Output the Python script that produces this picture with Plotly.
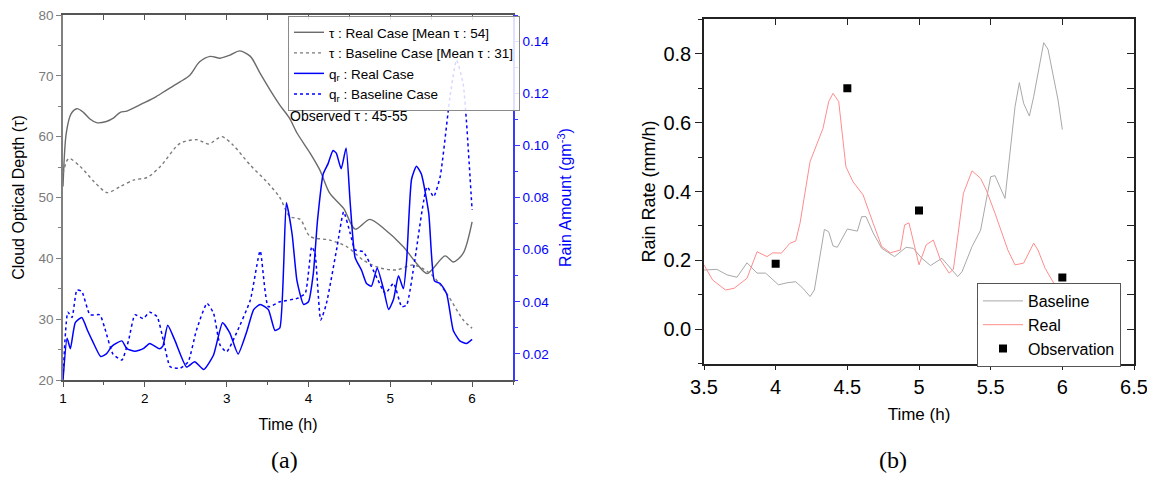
import plotly.graph_objects as go

# ---------------- Panel (a) data ----------------
tau_real_t = [1.00, 1.04, 1.10, 1.17, 1.25, 1.33, 1.41, 1.53, 1.62, 1.70, 1.78, 1.98, 2.14, 2.27, 2.43,
              2.55, 2.67, 2.80, 2.92, 3.04, 3.16, 3.29, 3.41, 3.53, 3.65, 3.77, 3.86, 4.02, 4.14, 4.26,
              4.43, 4.57, 4.75, 4.92, 5.16, 5.32, 5.45, 5.67, 5.77, 5.89, 6.00]
tau_real = [51.8, 60.6, 63.8, 64.6, 64.0, 62.9, 62.3, 62.5, 63.1, 64.0, 64.2, 65.5, 66.6, 67.7, 69.0,
            70.1, 72.3, 73.2, 72.9, 73.4, 74.1, 73.2, 70.4, 67.7, 65.2, 63.0, 60.6, 57.3, 54.5, 50.7,
            48.2, 44.8, 46.4, 44.9, 41.9, 39.2, 37.5, 40.4, 39.4, 40.8, 46.0]

tau_base_t = [1.00, 1.07, 1.21, 1.38, 1.54, 1.70, 1.87, 2.03, 2.19, 2.43, 2.64, 2.78, 2.94, 3.08, 3.29,
              3.49, 3.65, 3.77, 3.90, 4.02, 4.26, 4.47, 4.67, 4.88, 5.08, 5.28, 5.49, 5.69, 5.89, 6.00]
tau_base = [54.0, 56.4, 55.1, 52.6, 50.8, 51.8, 52.9, 53.3, 55.1, 58.9, 59.5, 58.8, 60.0, 58.6, 55.3,
            52.6, 50.0, 46.9, 46.4, 43.6, 43.0, 41.9, 39.7, 38.4, 38.1, 38.9, 37.5, 34.2, 29.9, 28.5]

qr_real_t = [1.00, 1.05, 1.09, 1.15, 1.23, 1.30, 1.36, 1.46, 1.53, 1.60, 1.72, 1.78, 1.88, 1.98, 2.06,
             2.18, 2.22, 2.28, 2.37, 2.51, 2.61, 2.72, 2.84, 2.95, 3.04, 3.14, 3.25, 3.33, 3.41, 3.51,
             3.59, 3.65, 3.73, 3.80, 3.86, 3.94, 4.00, 4.06, 4.11, 4.18, 4.24, 4.30, 4.34, 4.40, 4.46,
             4.51, 4.57, 4.65, 4.71, 4.77, 4.84, 4.92, 4.98, 5.04, 5.10, 5.16, 5.20, 5.26, 5.32, 5.38,
             5.47, 5.54, 5.61, 5.69, 5.77, 5.85, 5.93, 6.00]
qr_real = [0.010, 0.026, 0.022, 0.032, 0.034, 0.029, 0.025, 0.019, 0.020, 0.023, 0.025, 0.022, 0.021, 0.022, 0.024,
           0.022, 0.023, 0.031, 0.025, 0.015, 0.017, 0.014, 0.0196, 0.032, 0.028, 0.020, 0.029, 0.037, 0.039, 0.037,
           0.029, 0.030, 0.078, 0.066, 0.048, 0.039, 0.040, 0.051, 0.071, 0.089, 0.093, 0.098, 0.097, 0.091, 0.099,
           0.078, 0.057, 0.052, 0.047, 0.046, 0.053, 0.0445, 0.037, 0.041, 0.050, 0.045, 0.056, 0.087, 0.092, 0.089,
           0.074, 0.048, 0.047, 0.043, 0.029, 0.025, 0.024, 0.0256]

qr_base_t = [1.00, 1.06, 1.11, 1.17, 1.23, 1.33, 1.45, 1.51, 1.61, 1.72, 1.80, 1.88, 1.98, 2.06, 2.15,
             2.23, 2.31, 2.43, 2.53, 2.63, 2.76, 2.84, 2.92, 3.00, 3.12, 3.29, 3.41, 3.51, 3.65, 3.86,
             3.96, 4.04, 4.08, 4.15, 4.22, 4.35, 4.43, 4.51, 4.57, 4.67, 4.77, 4.85, 4.94, 5.04, 5.14,
             5.20, 5.30, 5.45, 5.53, 5.61, 5.73, 5.81, 5.89, 5.93, 6.00]
qr_base = [0.0106, 0.036, 0.034, 0.0445, 0.044, 0.035, 0.035, 0.030, 0.020, 0.0177, 0.025, 0.035, 0.0336, 0.036, 0.0343,
           0.0247, 0.0151, 0.0145, 0.017, 0.029, 0.0394, 0.0356, 0.0234, 0.0208, 0.028, 0.0407, 0.0595, 0.0381, 0.040, 0.0413,
           0.0432, 0.0611, 0.0586, 0.033, 0.0394, 0.0611, 0.0745, 0.0663, 0.0599, 0.0592, 0.0535, 0.0483, 0.0432, 0.0471, 0.0381,
           0.0388, 0.056, 0.0841, 0.0803, 0.088, 0.1187, 0.1327, 0.1238, 0.1097, 0.0752]

# ---------------- Panel (b) data ----------------
rate_base_t = [3.50, 3.59, 3.66, 3.73, 3.80, 3.87, 3.93, 4.02, 4.08, 4.14, 4.19, 4.24, 4.27, 4.34, 4.37,
               4.40, 4.43, 4.50, 4.57, 4.60, 4.63, 4.68, 4.74, 4.83, 4.91, 4.96, 5.02, 5.08, 5.16, 5.21,
               5.27, 5.30, 5.37, 5.43, 5.50, 5.53, 5.60, 5.67, 5.70, 5.73, 5.77, 5.80, 5.87, 5.90, 5.94,
               5.97, 6.00]
rate_base = [0.172, 0.174, 0.158, 0.151, 0.193, 0.163, 0.163, 0.129, 0.135, 0.138, 0.119, 0.095, 0.114, 0.290, 0.283,
             0.242, 0.238, 0.291, 0.285, 0.327, 0.327, 0.280, 0.235, 0.211, 0.238, 0.235, 0.206, 0.185, 0.206, 0.182,
             0.153, 0.167, 0.240, 0.288, 0.443, 0.446, 0.380, 0.646, 0.716, 0.656, 0.619, 0.675, 0.832, 0.813, 0.724,
             0.666, 0.580]

rate_real_t = [3.50, 3.56, 3.65, 3.71, 3.80, 3.87, 3.94, 3.98, 4.04, 4.10, 4.14, 4.17, 4.24, 4.33, 4.37,
               4.40, 4.44, 4.49, 4.54, 4.61, 4.68, 4.74, 4.80, 4.87, 4.90, 4.93, 5.00, 5.05, 5.10, 5.15,
               5.21, 5.24, 5.31, 5.37, 5.43, 5.47, 5.53, 5.58, 5.62, 5.67, 5.73, 5.80, 5.83, 5.88, 5.94,
               6.00]
rate_real = [0.187, 0.143, 0.114, 0.119, 0.148, 0.225, 0.211, 0.222, 0.221, 0.250, 0.256, 0.308, 0.487, 0.583, 0.661,
             0.685, 0.661, 0.472, 0.428, 0.390, 0.308, 0.240, 0.222, 0.230, 0.303, 0.309, 0.187, 0.245, 0.259, 0.201,
             0.163, 0.174, 0.395, 0.460, 0.438, 0.404, 0.337, 0.279, 0.230, 0.187, 0.192, 0.250, 0.230, 0.177, 0.134,
             0.114]

obs_t = [4.0, 4.5, 5.0, 6.0]
obs_rate = [0.19, 0.70, 0.345, 0.15]

# tick labels
a_xticks = [1, 2, 3, 4, 5, 6]
a_yticks = [20, 30, 40, 50, 60, 70, 80]
a_y2ticks = [0.02, 0.04, 0.06, 0.08, 0.10, 0.12, 0.14]
b_xticks = [3.5, 4, 4.5, 5, 5.5, 6, 6.5]
b_yticks = [0.0, 0.2, 0.4, 0.6, 0.8]

SANS = "Liberation Sans, Arial, sans-serif"
SERIF = "Liberation Serif, Times New Roman, serif"
BLUE = "#0000ff"
W, H = 1155, 479
OFF = 8  # page body margin


def px(xp):
    return (xp - OFF) / W


def py(yp):
    return 1 - (yp - OFF) / H


fig = go.Figure()

# Panel (a)
fig.add_trace(go.Scatter(x=tau_real_t, y=tau_real, mode="lines", line=dict(color="#6b6b6b", width=1.4, shape="spline", smoothing=0.8),
                         name="τ : Real Case [Mean τ : 54]", xaxis="x", yaxis="y", legend="legend"))
fig.add_trace(go.Scatter(x=tau_base_t, y=tau_base, mode="lines", line=dict(color="#7a7a7a", width=1.4, dash="dot", shape="spline", smoothing=0.8),
                         name="τ : Baseline Case [Mean τ : 31]", xaxis="x", yaxis="y", legend="legend"))
fig.add_trace(go.Scatter(x=qr_real_t, y=qr_real, mode="lines", line=dict(color=BLUE, width=1.5, shape="spline", smoothing=0.5),
                         name="q<sub>r</sub> : Real Case", xaxis="x", yaxis="y2", legend="legend"))
fig.add_trace(go.Scatter(x=qr_base_t, y=qr_base, mode="lines", line=dict(color=BLUE, width=1.5, dash="dot", shape="spline", smoothing=0.5),
                         name="q<sub>r</sub> : Baseline Case", xaxis="x", yaxis="y2", legend="legend"))
# empty traces so the inward-tick frame axes exist
fig.add_trace(go.Scatter(x=[], y=[], xaxis="x3", yaxis="y", showlegend=False, hoverinfo="skip"))
fig.add_trace(go.Scatter(x=[], y=[], xaxis="x4", yaxis="y3", showlegend=False, hoverinfo="skip"))
fig.add_trace(go.Scatter(x=[], y=[], xaxis="x2", yaxis="y4", showlegend=False, hoverinfo="skip"))

# Panel (b)
fig.add_trace(go.Scatter(x=rate_base_t, y=rate_base, mode="lines", line=dict(color="#a8a8a8", width=1),
                         name="Baseline", xaxis="x2", yaxis="y3", legend="legend2"))
fig.add_trace(go.Scatter(x=rate_real_t, y=rate_real, mode="lines", line=dict(color="#ff8c8c", width=1),
                         name="Real", xaxis="x2", yaxis="y3", legend="legend2"))
fig.add_trace(go.Scatter(x=obs_t, y=obs_rate, mode="markers", marker=dict(symbol="square", color="black", size=8),
                         name="Observation", xaxis="x2", yaxis="y3", legend="legend2"))

a_dom_x = [px(63), px(513)]
a_dom_y = [py(380), py(15)]
b_dom_x = [px(704), px(1134)]
b_dom_y = [py(363.7), py(19.3)]

fig.update_layout(
    width=W, height=H,
    margin=dict(l=0, r=0, t=0, b=0),
    paper_bgcolor="white", plot_bgcolor="white",
    font=dict(family=SANS, color="black"),
    xaxis=dict(domain=a_dom_x, anchor="y", range=[1, 6.5], tickvals=a_xticks, ticks="outside", ticklen=5,
               tickcolor="#555555", showline=True, linecolor="#555555", linewidth=1.5, showgrid=False, zeroline=False,
               tickfont=dict(size=13.5, color="black"), automargin=False, ticklabeloverflow="allow",
               minor=dict(dtick=0.5, tick0=1, ticks="outside", ticklen=3, tickcolor="#555555"),
               title=dict(text="Time (h)", font=dict(size=16), standoff=14)),
    xaxis3=dict(overlaying="x", anchor="y", side="top", range=[1, 6.5], dtick=0.5, tick0=1, ticks="inside", ticklen=5,
                tickcolor="#555555", showline=True, linecolor="#555555", linewidth=1.5, showticklabels=False,
                showgrid=False, zeroline=False, automargin=False),
    yaxis=dict(domain=a_dom_y, anchor="x", range=[20, 80], tickvals=a_yticks, ticks="outside", ticklen=5,
               tickcolor="#808080", showline=True, linecolor="#808080", linewidth=1.5, showgrid=False, zeroline=False,
               tickfont=dict(size=13.5, color="#7a7a7a"), automargin=False, ticklabeloverflow="allow",
               minor=dict(dtick=5, tick0=20, ticks="outside", ticklen=3, tickcolor="#808080"),
               title=dict(text="Cloud Optical Depth (τ)", font=dict(size=16, color="black"), standoff=10)),
    yaxis2=dict(overlaying="y", anchor="x", side="right", range=[0.01, 0.15], tickvals=a_y2ticks, tickformat=".2f",
                ticks="outside", ticklen=5, tickcolor="#3a3aff", showline=True, linecolor="#3a3aff", linewidth=1.5,
                showgrid=False, zeroline=False, tickfont=dict(size=13.5, color=BLUE), automargin=False,
                ticklabeloverflow="allow",
                minor=dict(dtick=0.01, tick0=0.01, ticks="outside", ticklen=3, tickcolor="#3a3aff"),
                title=dict(text="Rain Amount (gm<sup>-3</sup>)", font=dict(size=16, color=BLUE), standoff=12)),
    xaxis2=dict(domain=b_dom_x, anchor="y3", range=[3.5, 6.5], tickvals=b_xticks, ticks="outside", ticklen=5,
                tickcolor="#222222", showline=True, linecolor="#222222", linewidth=1.5, showgrid=False, zeroline=False,
                tickfont=dict(size=20), automargin=False, ticklabeloverflow="allow",
                title=dict(text="Time (h)", font=dict(size=17), standoff=11)),
    xaxis4=dict(overlaying="x2", anchor="y3", side="top", range=[3.5, 6.5], dtick=0.5, tick0=3.5, ticks="inside",
                ticklen=6, tickcolor="#222222", showline=True, linecolor="#222222", linewidth=1.5,
                showticklabels=False, showgrid=False, zeroline=False, automargin=False),
    yaxis3=dict(domain=b_dom_y, anchor="x2", range=[-0.1, 0.9], tickvals=b_yticks, tickformat=".1f", ticks="outside",
                ticklen=7, tickcolor="#222222", showline=True, linecolor="#222222", linewidth=1.5, showgrid=False,
                zeroline=False, tickfont=dict(size=20), automargin=False, ticklabeloverflow="allow",
                minor=dict(dtick=0.1, tick0=0, ticks="outside", ticklen=4, tickcolor="#222222"),
                title=dict(text="Rain Rate (mm/h)", font=dict(size=18), standoff=3)),
    yaxis4=dict(overlaying="y3", anchor="x2", side="right", range=[-0.1, 0.9], dtick=0.1, tick0=0, ticks="inside",
                ticklen=7, tickcolor="#222222", showline=True, linecolor="#222222", linewidth=1.5,
                showticklabels=False, showgrid=False, zeroline=False, automargin=False),
    legend=dict(x=px(288), y=py(16), xanchor="left", yanchor="top", bgcolor="rgba(255,255,255,0.85)",
                bordercolor="#8a8a8a", borderwidth=1, font=dict(size=13.5, family=SANS), itemwidth=30,
                tracegroupgap=0),
    legend2=dict(x=px(977), y=py(283), xanchor="left", yanchor="top", bgcolor="white",
                 bordercolor="#555555", borderwidth=1, font=dict(size=16, family=SANS), itemwidth=40),
    annotations=[
        dict(text="Observed τ : 45-55", x=px(288), y=py(116), xref="paper", yref="paper", xanchor="left",
             yanchor="middle", showarrow=False, font=dict(size=14, family=SANS, color="black")),
        dict(text="(a)", x=px(284), y=py(460), xref="paper", yref="paper", xanchor="center", yanchor="middle",
             showarrow=False, font=dict(size=24, family=SERIF, color="black")),
        dict(text="(b)", x=px(893), y=py(460), xref="paper", yref="paper", xanchor="center", yanchor="middle",
             showarrow=False, font=dict(size=24, family=SERIF, color="black")),
    ],
)

fig.write_html("out.html")
